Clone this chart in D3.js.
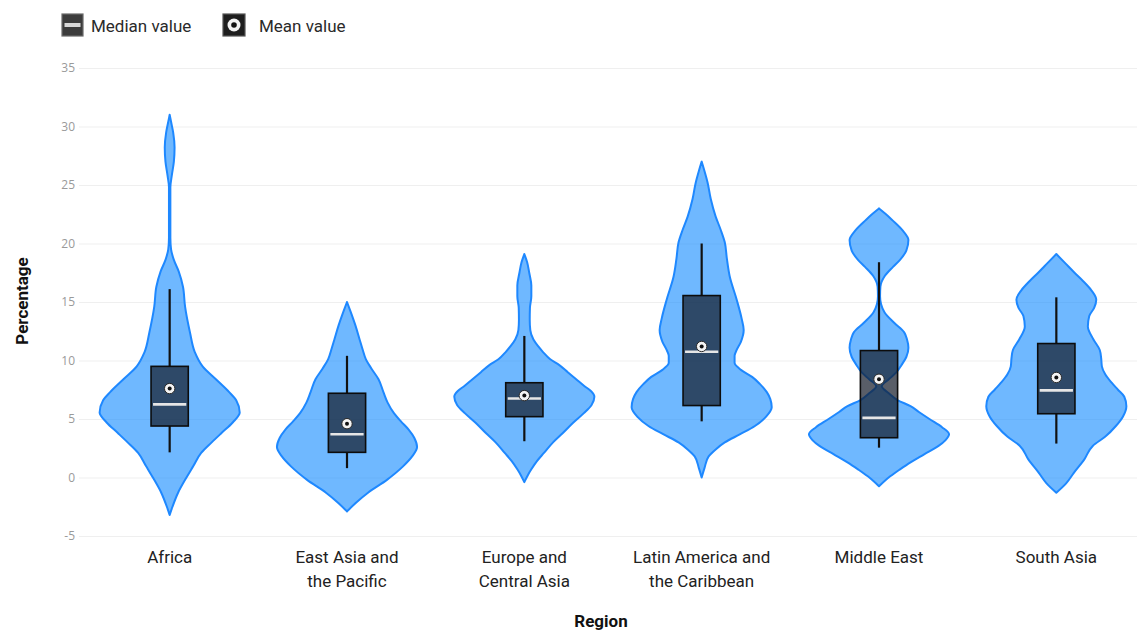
<!DOCTYPE html>
<html>
<head>
<meta charset="utf-8">
<script src="https://cdn.jsdelivr.net/npm/d3@7"></script>
<style>
  body { margin: 0; background: #fff; }
  svg { display: block; font-family: Roboto, "Noto Sans", sans-serif; }
</style>
</head>
<body>
<svg id="chart" width="1137" height="632"></svg>
<script>
// Regions (categories) and their two-line axis labels
const regions = ["Africa", "East Asia and the Pacific", "Europe and Central Asia",
  "Latin America and the Caribbean", "Middle East", "South Asia"];
const regionLabels = [["Africa"], ["East Asia and", "the Pacific"], ["Europe and", "Central Asia"],
  ["Latin America and", "the Caribbean"], ["Middle East"], ["South Asia"]];

// Box-plot statistics per region (percentage)
const whiskerLow  = [2.15, 0.8, 3.1, 4.8, 2.55, 2.9];
const q1          = [4.4, 2.15, 5.2, 6.15, 3.4, 5.45];
const median      = [6.25, 3.7, 6.75, 10.75, 5.1, 7.45];
const mean        = [7.6, 4.6, 7.0, 11.2, 8.4, 8.55];
const q3          = [9.5, 7.2, 8.1, 15.55, 10.85, 11.45];
const whiskerHigh = [16.1, 10.4, 12.1, 20.0, 18.4, 15.4];

// Y-axis ticks
const yTicks = [-5, 0, 5, 10, 15, 20, 25, 30, 35];

// Kernel density profiles: [percentage, relative density (max = 1)]
const densityAfrica = [[-3.2,0],[-2.5,0.04],[-1.3,0.12],[0,0.24],[1,0.34],[2.1,0.45],[3,0.6],[3.8,0.74],
  [4.7,0.9],[5.55,1],[6.6,0.95],[7.3,0.85],[8.4,0.66],[9.5,0.47],[10.7,0.36],[12.4,0.29],[14.6,0.22],
  [16.3,0.19],[17.6,0.13],[18.6,0.06],[19.5,0.02],[20.5,0.01],[24.8,0.01],[25.8,0.03],[27,0.06],
  [28.2,0.07],[29.5,0.05],[30.4,0.02],[31,0]];
const densityEastAsia = [[-2.9,0],[-2.2,0.12],[-1.3,0.3],[-0.2,0.57],[0.95,0.8],[1.8,0.93],[2.6,1],
  [3.4,0.96],[4.1,0.88],[4.8,0.77],[5.5,0.67],[6.4,0.58],[7.3,0.52],[8.4,0.45],[9.3,0.35],[10.1,0.27],
  [11,0.22],[11.8,0.18],[13,0.12],[14.2,0.05],[15,0]];
const densityEurope = [[-0.4,0],[0.2,0.05],[0.7,0.1],[1.4,0.18],[2.1,0.28],[3,0.41],[3.8,0.55],[4.7,0.7],
  [5.5,0.85],[6.2,0.96],[6.9,1],[7.4,0.95],[7.8,0.86],[8.4,0.74],[9,0.62],[9.6,0.5],[10.1,0.37],
  [10.7,0.27],[11.2,0.2],[11.8,0.13],[12.6,0.085],[13.5,0.077],[14.5,0.08],[15.5,0.1],[16.4,0.1],
  [17.5,0.07],[18.4,0.04],[19.1,0]];
const densityLatinAmerica = [[0,0],[0.8,0.04],[1.8,0.1],[2.4,0.2],[3,0.33],[3.7,0.55],[4.4,0.76],
  [5.2,0.92],[6,1],[6.7,0.98],[7.3,0.93],[8,0.83],[8.6,0.72],[9.2,0.56],[9.8,0.47],[10.4,0.47],
  [10.9,0.5],[11.6,0.56],[12.6,0.6],[13.6,0.57],[15.2,0.5],[17.2,0.4],[18.7,0.36],[20.1,0.33],
  [21.2,0.27],[22.3,0.2],[23.8,0.13],[25.2,0.085],[26.2,0.04],[27,0]];
const densityMiddleEast = [[-0.75,0],[-0.3,0.08],[0.1,0.16],[0.7,0.3],[1.3,0.45],[2,0.65],[2.7,0.85],
  [3.2,0.95],[3.7,1],[4.3,0.9],[5,0.72],[5.6,0.57],[6.1,0.45],[6.6,0.27],[7.2,0.14],[7.8,0.04],
  [8.4,0.14],[9,0.25],[9.6,0.32],[10.3,0.39],[11.1,0.42],[11.8,0.4],[12.4,0.36],[13.2,0.22],
  [14.1,0.08],[14.8,0.03],[15.5,0.015],[16.3,0.02],[17.2,0.08],[18,0.2],[18.6,0.3],[19.4,0.39],
  [20.3,0.42],[21.1,0.34],[22,0.19],[22.5,0.1],[23,0]];
const densitySouthAsia = [[-1.3,0],[-0.5,0.14],[0.4,0.25],[1.55,0.4],[2.7,0.52],[3.5,0.7],[4.4,0.85],
  [5.2,0.95],[6.1,1],[6.9,0.97],[7.5,0.88],[8.1,0.79],[8.8,0.7],[9.5,0.65],[10.2,0.64],[10.9,0.62],
  [11.8,0.53],[12.9,0.45],[13.8,0.47],[14.5,0.54],[15.2,0.57],[16,0.5],[16.8,0.38],[17.5,0.26],
  [18.3,0.13],[19.1,0]];
const densities = [densityAfrica, densityEastAsia, densityEurope, densityLatinAmerica,
  densityMiddleEast, densitySouthAsia];

const svg = d3.select("#chart");
const W = 1137;

const x = d3.scaleBand().domain(regions).range([81, 1145]).padding(0);
const y = d3.scaleLinear().domain([-5, 35]).range([536, 68]);
const bw = x.bandwidth();
const cx = r => x(r) + bw / 2;
const violinW = d3.scaleLinear().domain([0, 1]).range([0, bw * 0.395]);
const boxHalf = bw * 0.105;

// Gridlines and tick labels
const yAxis = svg.append("g")
  .attr("transform", "translate(79,0)")
  .call(d3.axisLeft(y).tickValues(yTicks).tickFormat(d => String(d))
    .tickSize(-(W - 79)).tickPadding(4));
yAxis.select(".domain").remove();
yAxis.selectAll(".tick line").attr("stroke", "#efefef").attr("stroke-width", 1);
yAxis.selectAll(".tick text").attr("fill", "#9a9a9a")
  .style("font-family", "'Open Sans', sans-serif").style("font-size", "12px");

// Violins
const area = d3.area().curve(d3.curveMonotoneY);

regions.forEach((r, i) => {
  const c = cx(r);
  area.y(d => y(d[0])).x0(d => c - violinW(d[1])).x1(d => c + violinW(d[1]));
  svg.append("path")
    .datum(densities[i])
    .attr("d", area)
    .attr("fill", "rgba(30,144,255,0.64)")
    .attr("stroke", "#1e88ff")
    .attr("stroke-width", 2)
    .attr("stroke-linejoin", "round");
});

// Box plots
const boxes = svg.append("g");
regions.forEach((r, i) => {
  const c = cx(r);
  const g = boxes.append("g");
  g.append("line").attr("x1", c).attr("x2", c)
    .attr("y1", y(whiskerHigh[i])).attr("y2", y(q3[i]))
    .attr("stroke", "#111").attr("stroke-width", 2.2);
  g.append("line").attr("x1", c).attr("x2", c)
    .attr("y1", y(q1[i])).attr("y2", y(whiskerLow[i]))
    .attr("stroke", "#111").attr("stroke-width", 2.2);
  g.append("rect")
    .attr("x", c - boxHalf).attr("width", boxHalf * 2)
    .attr("y", y(q3[i])).attr("height", y(q1[i]) - y(q3[i]))
    .attr("fill", "rgba(18,26,40,0.7)")
    .attr("stroke", "#0c0c0c").attr("stroke-width", 1.6);
  g.append("line")
    .attr("x1", c - boxHalf + 2).attr("x2", c + boxHalf - 2)
    .attr("y1", y(median[i])).attr("y2", y(median[i]))
    .attr("stroke", "#e6e6e6").attr("stroke-width", 2.6);
  g.append("circle").attr("cx", c).attr("cy", y(mean[i])).attr("r", 5.2)
    .attr("fill", "#f4f4f4").attr("stroke", "#2a2a2a").attr("stroke-width", 1);
  g.append("circle").attr("cx", c).attr("cy", y(mean[i])).attr("r", 2)
    .attr("fill", "#111");
});

// Category labels
regions.forEach((r, i) => {
  const t = svg.append("text")
    .attr("x", cx(r)).attr("y", 563)
    .attr("text-anchor", "middle")
    .attr("fill", "#222")
    .style("font-size", "17px");
  regionLabels[i].forEach((line, k) => {
    t.append("tspan").attr("x", cx(r)).attr("dy", k === 0 ? 0 : 24).text(line);
  });
});

// Axis titles
svg.append("text")
  .attr("transform", "translate(28,301) rotate(-90)")
  .attr("text-anchor", "middle")
  .attr("fill", "#111")
  .style("font-size", "17px").style("font-weight", "bold")
  .text("Percentage");
svg.append("text")
  .attr("x", 601).attr("y", 627)
  .attr("text-anchor", "middle")
  .attr("fill", "#111")
  .style("font-size", "17px").style("font-weight", "bold")
  .text("Region");

// Legend
const legend = svg.append("g");
legend.append("rect").attr("x", 62).attr("y", 14).attr("width", 21).attr("height", 22)
  .attr("fill", "#3c3c3c").attr("stroke", "#6a6a6a").attr("stroke-width", 1.2);
legend.append("rect").attr("x", 64.5).attr("y", 23).attr("width", 16).attr("height", 4)
  .attr("fill", "#d8d8d8");
legend.append("text").attr("x", 91).attr("y", 32).attr("fill", "#2a2a2a")
  .style("font-size", "17px").text("Median value");

legend.append("rect").attr("x", 223).attr("y", 14).attr("width", 22).attr("height", 22)
  .attr("fill", "#1e1e1e").attr("stroke", "#555").attr("stroke-width", 1.2);
legend.append("circle").attr("cx", 234).attr("cy", 25).attr("r", 6.5).attr("fill", "#f2f2f2");
legend.append("circle").attr("cx", 234).attr("cy", 25).attr("r", 2.8).attr("fill", "#111");
legend.append("text").attr("x", 259).attr("y", 32).attr("fill", "#2a2a2a")
  .style("font-size", "17px").text("Mean value");
</script>
</body>
</html>
